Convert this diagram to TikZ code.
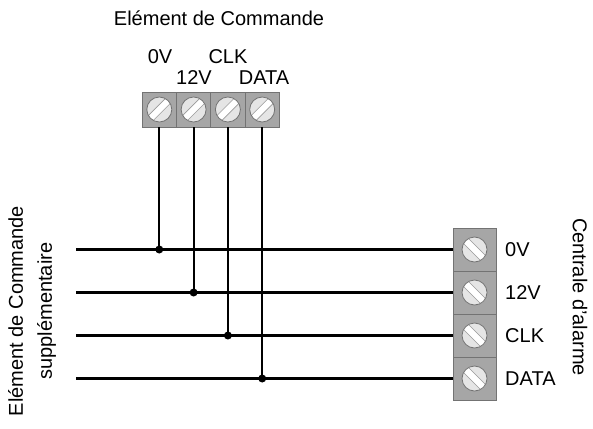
\documentclass[tikz,border=0pt]{standalone}
\usepackage{fontspec}
\setmainfont{Liberation Sans}
\usetikzlibrary{calc}
\begin{document}
\begin{tikzpicture}[x=1pt,y=-1pt,
  lbl/.style={inner sep=0pt,font=\fontsize{20}{29}\selectfont},
  tcell/.style={draw=black!55,fill=black!35,line width=0.8pt,minimum width=34.3pt,minimum height=35pt,inner sep=0pt},
  rcell/.style={draw=black!55,fill=black!35,line width=0.8pt,minimum width=43pt,minimum height=43pt,inner sep=0pt},
  screw/.style={circle,draw=black!55,fill=black!10,line width=0.8pt,minimum size=25pt,inner sep=0pt,
    path picture={
      \coordinate (sc) at (path picture bounding box.center);
      \fill[white] ($(sc)+(#1:15)+(#1+90:3.5)$) -- ($(sc)+(#1+180:15)+(#1+90:3.5)$)
        -- ($(sc)+(#1+180:15)+(#1-90:3.5)$) -- ($(sc)+(#1:15)+(#1-90:3.5)$) -- cycle;
      \draw[black!40,line width=0.6pt] ($(sc)+(#1:15)+(#1+90:3.5)$) -- ($(sc)+(#1+180:15)+(#1+90:3.5)$)
        ($(sc)+(#1+180:15)+(#1-90:3.5)$) -- ($(sc)+(#1:15)+(#1-90:3.5)$);
    }},
  wire/.style={line width=2.2pt,black},
  dot/.style={circle,fill=black,minimum size=8pt,inner sep=0pt}]
\useasboundingbox (0,0) rectangle (593,428);
% title
\node[lbl] (title) at (219,18) {Elément de Commande};
% top block
\foreach \i/\x in {1/159.3,2/193.6,3/227.9,4/262.2}{
  \node[tcell] (tc\i) at (\x,109.5) {};
  \node[screw=-45] (ts\i) at (\x,109.5) {};
}
\node[lbl] (tl1) at (160,57) {0V};
\node[lbl] (tl3) at (228,57) {CLK};
\node[lbl] (tl2) at (194,78) {12V};
\node[lbl] (tl4) at (264,78) {DATA};
% right block
\foreach \i/\y in {1/249.5,2/292.5,3/335.5,4/378.5}{
  \node[rcell] (rc\i) at (474.5,\y) {};
  \node[screw=45] (rs\i) at (474.5,\y) {};
  \coordinate (L\i) at (76,\y);
}
\node[lbl,anchor=west] (rl1) at (505,249.5) {0V};
\node[lbl,anchor=west] (rl2) at (505,292.5) {12V};
\node[lbl,anchor=west] (rl3) at (505,335.5) {CLK};
\node[lbl,anchor=west] (rl4) at (505,378.5) {DATA};
% wires
\foreach \i/\x/\y in {1/159.3/249.5,2/193.6/292.5,3/227.9/335.5,4/262.2/378.5}{
  \draw[wire] (L\i) -- (rc\i.west);
  \node[dot] (j\i) at (\x,\y) {};
  \draw[wire] (tc\i.south) -- (j\i.center);
}
% side labels
\node[lbl,rotate=-90] (central) at (580,297) {Centrale d'alarme};
\node[lbl,rotate=90,align=center] (supp) at (32,311) {Elément de Commande\\supplémentaire};
\end{tikzpicture}
\end{document}
